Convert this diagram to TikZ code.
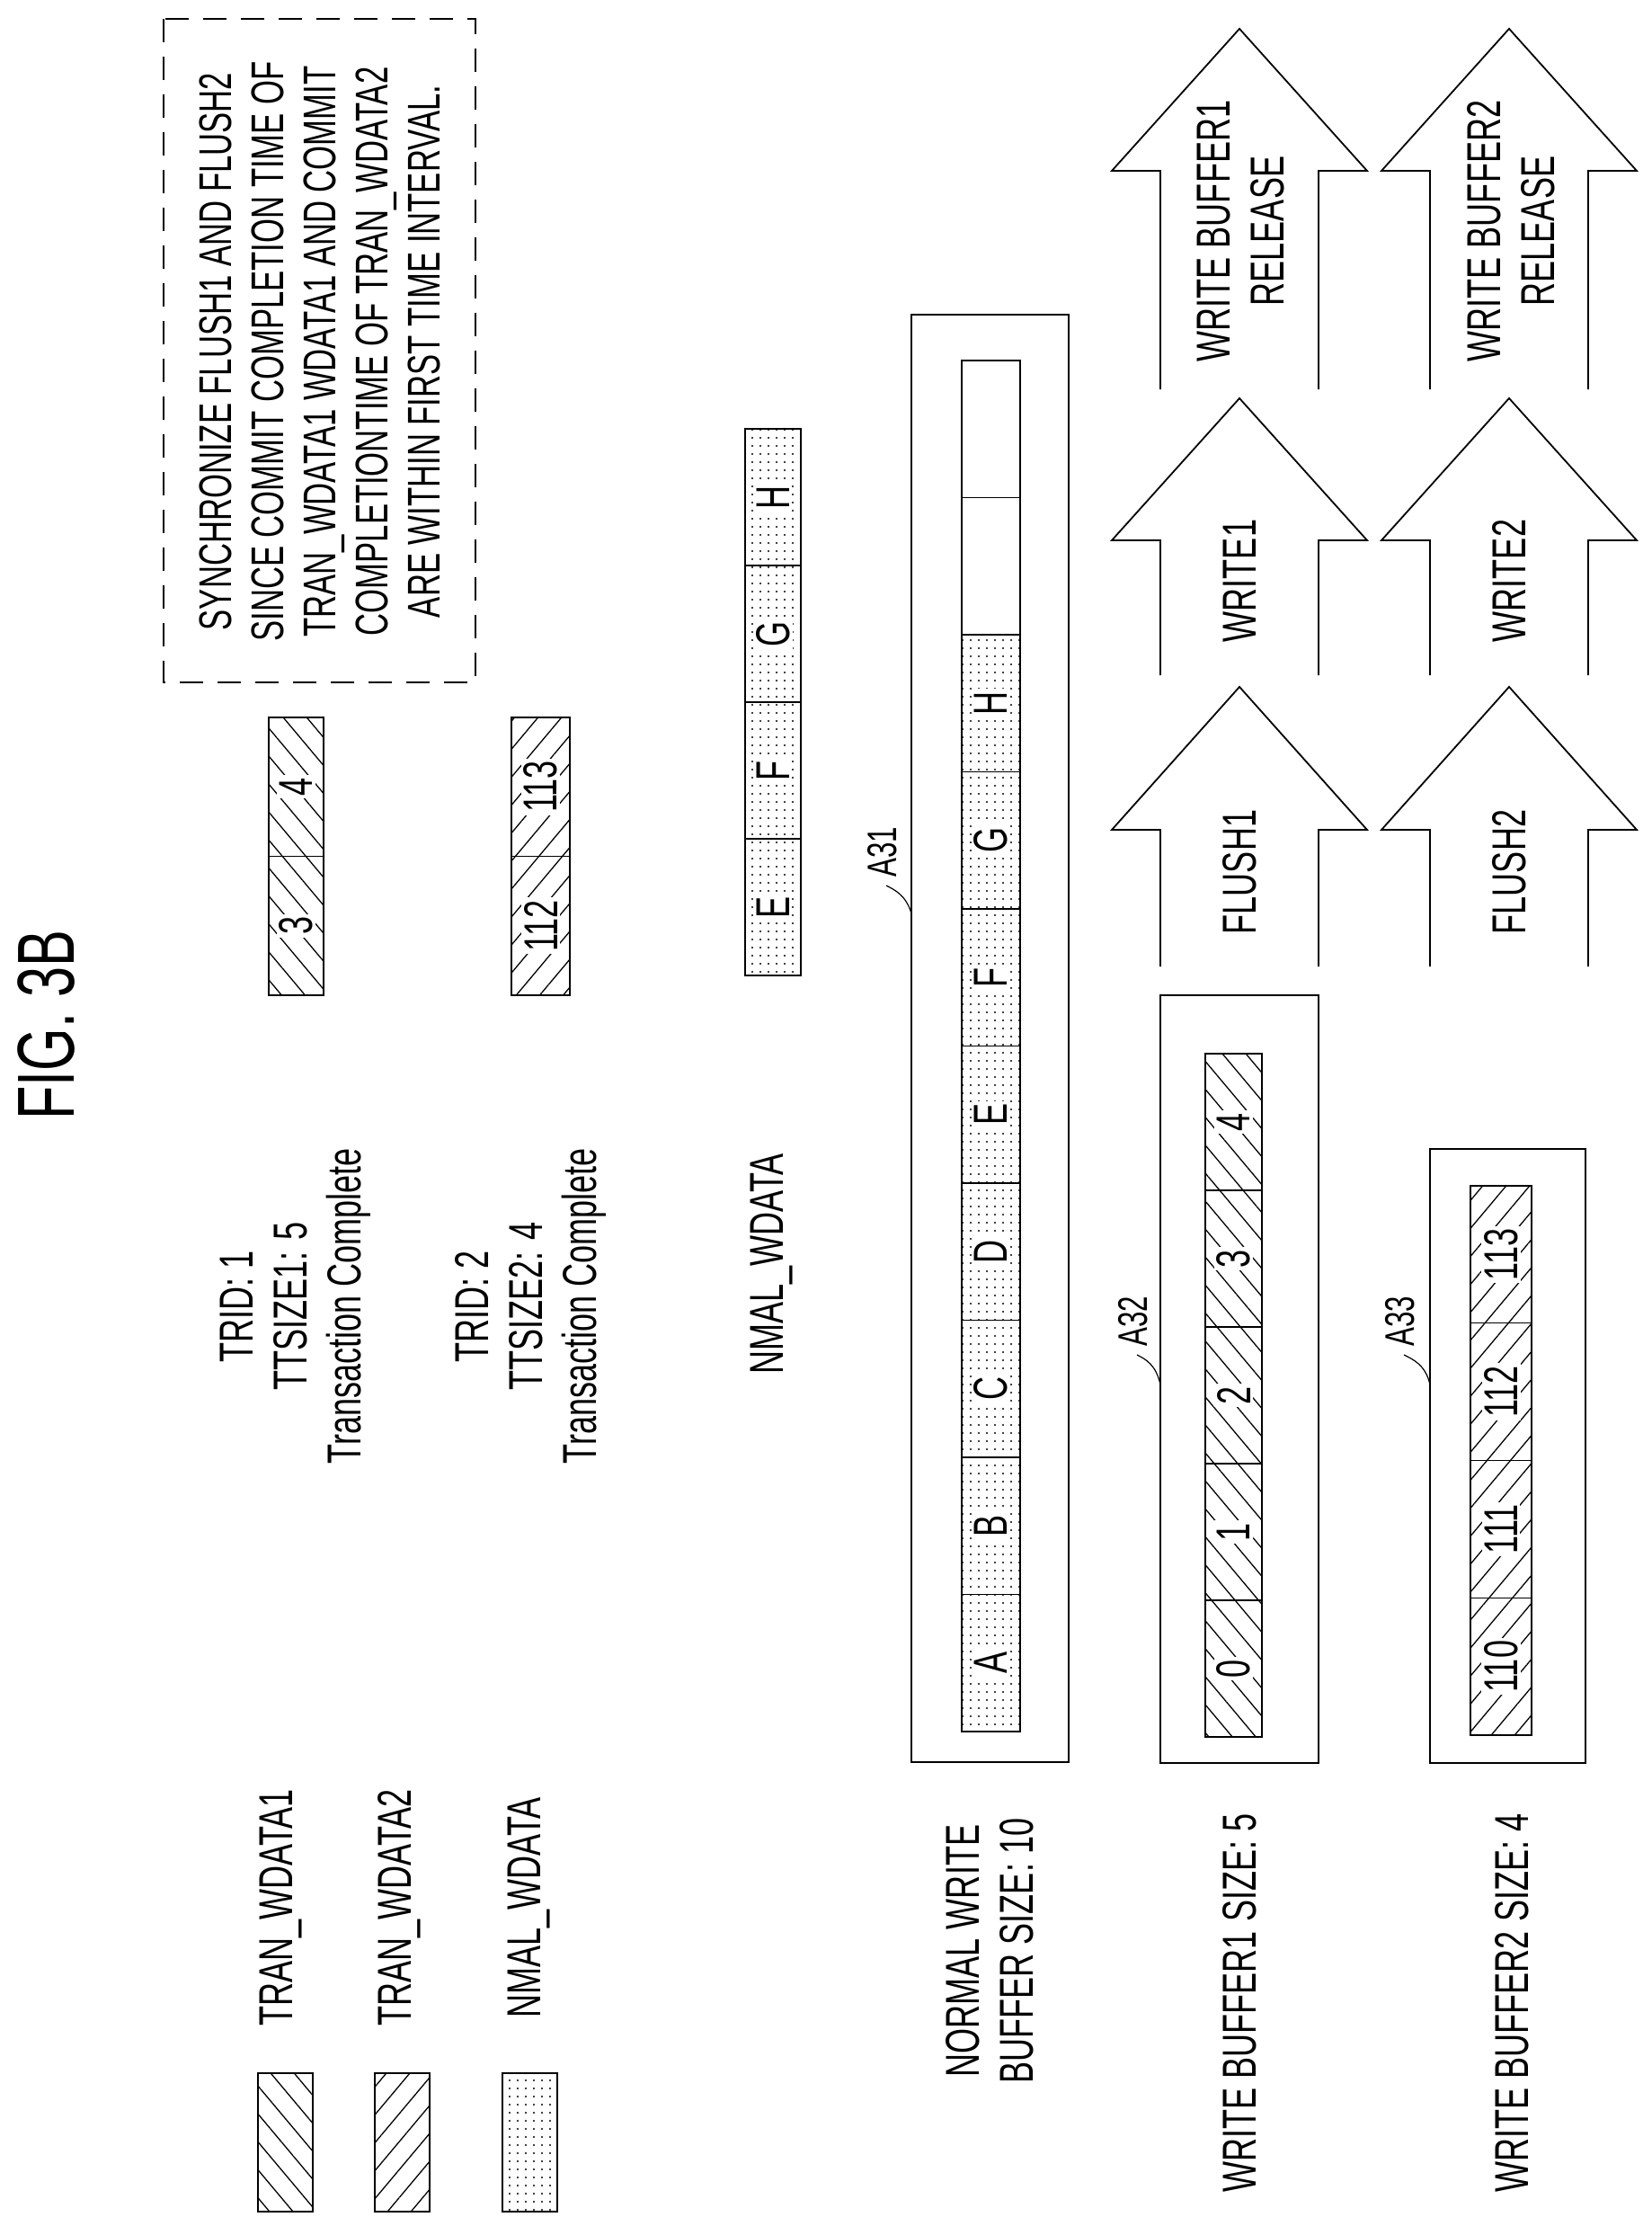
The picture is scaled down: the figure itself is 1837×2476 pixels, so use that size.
\documentclass[tikz,border=0pt]{standalone}
\usepackage{fontspec}
\setmainfont{Liberation Sans}[FakeStretch=0.68]
\usetikzlibrary{patterns.meta}
\tikzset{
  txt/.style={ % rotated text, read bottom to top
    rotate=90, align=center, inner sep=0pt,
    font=\fontsize{53}{60}\selectfont
  },
  cellnum/.style={txt, fill=white, inner sep=3pt},
  tranA/.style={pattern={Lines[angle=-50,distance=20pt,line width=1.3pt]}},
  tranB/.style={pattern={Lines[angle=50,distance=20pt,line width=1.3pt]}},
  nmal/.style={pattern={Dots[distance=9pt,radius=1.1pt]}},
  buf/.style={draw, line width=2.8pt},
  blk/.style={draw, line width=1.8pt, line join=miter}
}
% bar of cells: prefix, x1, x2, y of bottom, cell height, fill style, labels bottom-up
\newcommand{\databar}[7]{
  \foreach \lab [count=\i from 0] in {#7}{
    \path[#6, draw, line width=1.4pt] (#2,{#4-\i*#5}) rectangle (#3,{#4-(\i+1)*#5});
    \node[cellnum] (#1-\i) at ({(#2+#3)/2},{#4-(\i+0.5)*#5}) {\lab};
  }
}
% block arrow: x centre, tip, shoulder, bottom
\newcommand{\blockarrow}[4]{
  \draw[blk] (#1-88,#4) -- (#1-88,#3) -- (#1-142,#3) -- (#1,#2)
    -- (#1+142,#3) -- (#1+88,#3) -- (#1+88,#4);
}

\begin{document}
\begin{tikzpicture}[x=1pt,y=-1pt]
  \useasboundingbox (0,0) rectangle (1837,2476);

  \node[txt, font=\fontsize{90}{100}\selectfont] (title) at (52,1140) {FIG. 3B};

  % note
  \draw[line width=1.6pt, dash pattern=on 26pt off 16pt] (182,21) rectangle (529,759);
  \node[txt, font=\fontsize{51}{58}\selectfont] (note) at (356,391) {SYNCHRONIZE FLUSH1 AND FLUSH2\\SINCE COMMIT COMPLETION TIME OF\\TRAN\_WDATA1 WDATA1 AND COMMIT\\COMPLETIONTIME OF TRAN\_WDATA2\\ARE WITHIN FIRST TIME INTERVAL.};

  % incoming data
  \databar{t1}{299}{360}{1107}{154.5}{tranA}{3,4}
  \databar{t2}{569}{634}{1107}{154.5}{tranB}{112,113}
  \databar{nm}{829}{891}{1085}{152}{nmal}{E,F,G,H}
  \node[txt] (trid1) at (329,1453) {TRID: 1\\TTSIZE1: 5\\Transaction Complete};
  \node[txt] (trid2) at (590,1453) {TRID: 2\\TTSIZE2: 4\\Transaction Complete};
  \node[txt] (nmtxt) at (859,1406) {NMAL\_WDATA};

  % normal write buffer
  \draw[buf] (1014,350) rectangle (1189,1960);
  \databar{a31}{1070}{1135}{1926}{152.5}{nmal}{A,B,C,D,E,F,G,H}
  \draw[line width=1.4pt] (1070,706) rectangle (1135,401) (1070,553.5) -- (1135,553.5);
  \node[txt, font=\fontsize{46}{50}\selectfont] (l31) at (982,948) {A31};
  \draw[line width=1.2pt] (986,985) .. controls (996,990) and (1008,996) .. (1014,1016);

  % write buffer1
  \draw[buf] (1291,1107) rectangle (1467,1961);
  \databar{a32}{1341}{1404}{1932}{152}{tranA}{0,1,2,3,4}
  \node[txt, font=\fontsize{46}{50}\selectfont] (l32) at (1261,1470) {A32};
  \draw[line width=1.2pt] (1265,1507) .. controls (1275,1512) and (1286,1518) .. (1291,1540);

  % write buffer2
  \draw[buf] (1591,1278) rectangle (1764,1961);
  \databar{a33}{1636}{1704}{1930}{152.75}{tranB}{110,111,112,113}
  \node[txt, font=\fontsize{46}{50}\selectfont] (l33) at (1558,1470) {A33};
  \draw[line width=1.2pt] (1562,1507) .. controls (1572,1512) and (1586,1518) .. (1591,1540);

  % captions
  \node[txt] (cap31) at (1101,2170) {NORMAL WRITE\\BUFFER SIZE: 10};
  \node[txt] (cap32) at (1379,2228) {WRITE BUFFER1 SIZE: 5};
  \node[txt] (cap33) at (1682,2228) {WRITE BUFFER2 SIZE: 4};

  % operations
  \foreach \xc/\n in {1379/1,1679/2}{
    \blockarrow{\xc}{32}{190}{433}
    \blockarrow{\xc}{443}{601}{751}
    \blockarrow{\xc}{764}{923}{1075}
    \node[txt] (rel\n) at (\xc+2,257) {WRITE BUFFER\n\\RELEASE};
    \node[txt] (wr\n) at (\xc,646) {WRITE\n};
    \node[txt] (fl\n) at (\xc,970) {FLUSH\n};
  }

  % legend
  \path[tranA, draw, line width=2.5pt] (287,2306) rectangle (348,2460);
  \path[tranB, draw, line width=2.5pt] (417,2306) rectangle (478,2460);
  \path[nmal, draw, line width=2.5pt] (559,2306) rectangle (620,2460);
  \node[txt] (lgA) at (313,2122) {TRAN\_WDATA1};
  \node[txt] (lgB) at (444,2122) {TRAN\_WDATA2};
  \node[txt] (lgC) at (589,2122) {NMAL\_WDATA};
\end{tikzpicture}
\end{document}
